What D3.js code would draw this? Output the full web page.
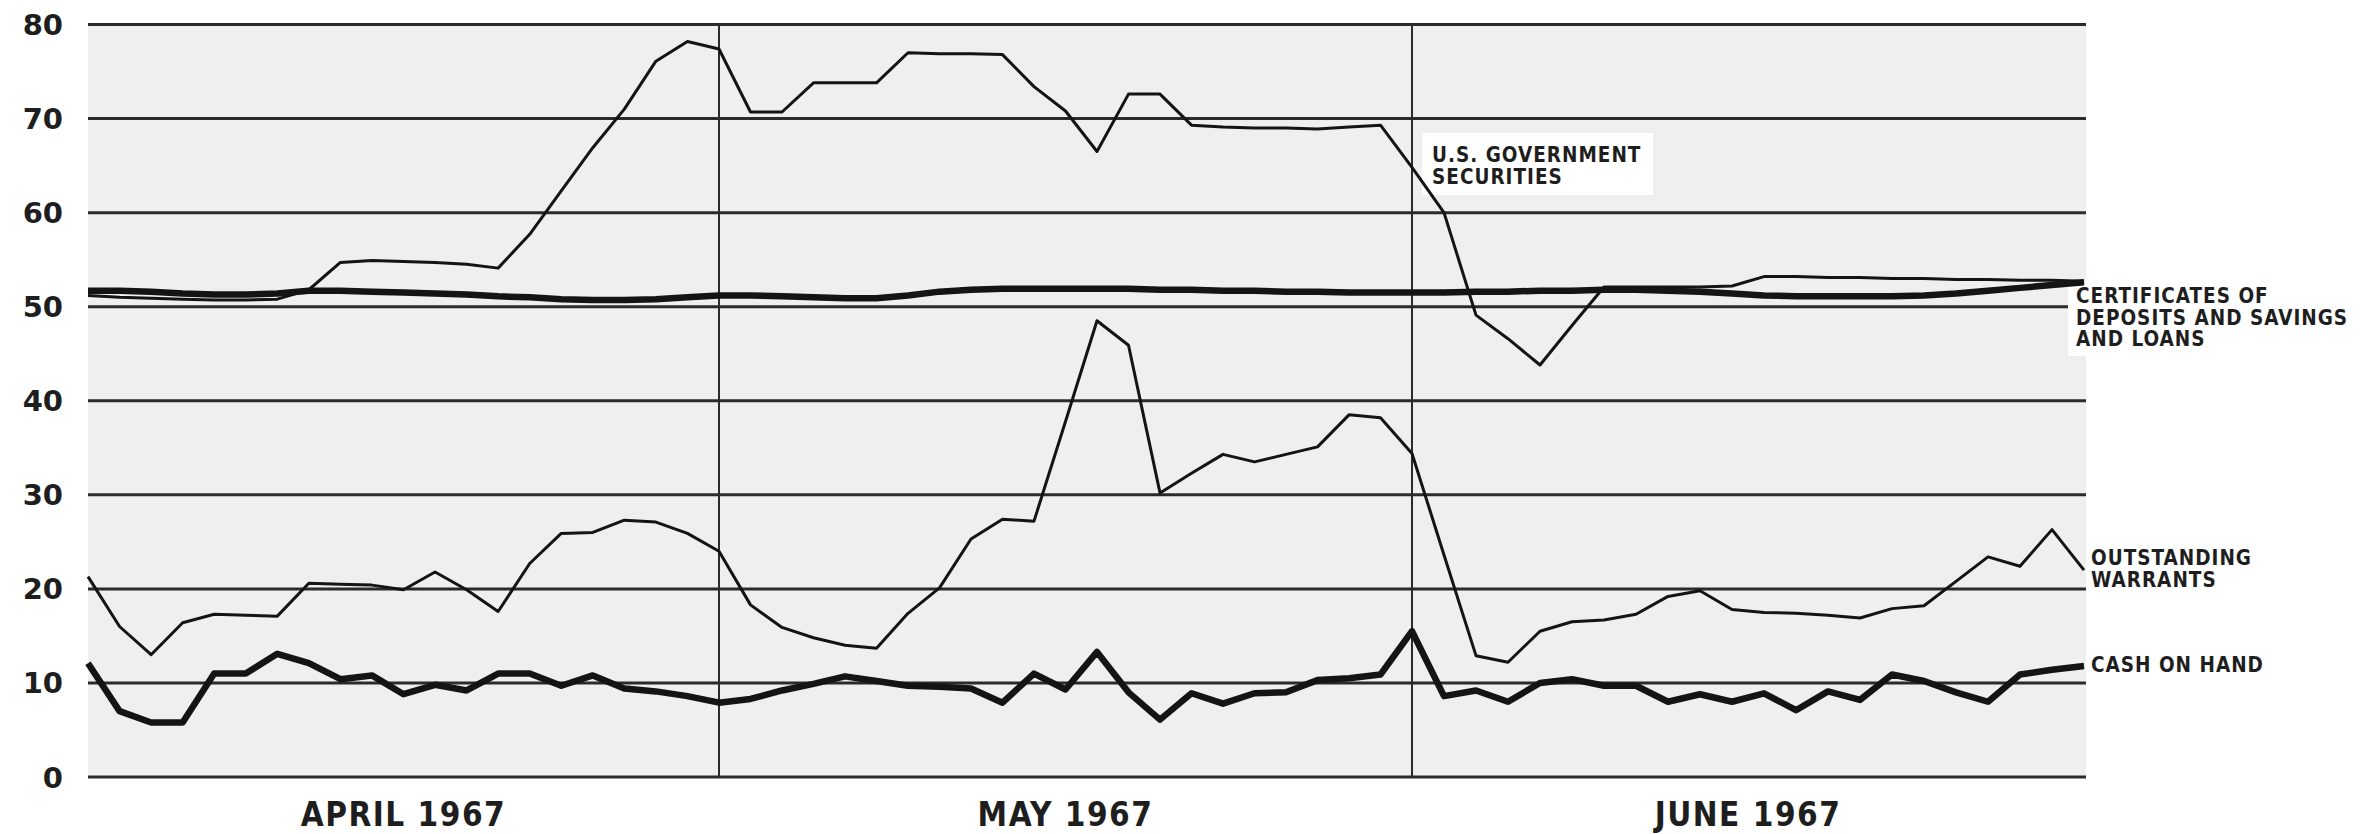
<!DOCTYPE html>
<html>
<head>
<meta charset="utf-8">
<script src="https://cdn.jsdelivr.net/npm/d3@7"></script>
<style>
    html, body { margin: 0; padding: 0; background: #fff; }
    svg { display: block; }
    text { font-family: "DejaVu Sans Condensed", "DejaVu Sans", sans-serif; font-weight: bold; fill: #1e1e1e; }
</style>
</head>
<body>
<svg id="chart"></svg>
<script>
const width = 2366;
const height = 834;

// one point per business day; April 0..20, May 20..42, June 42..63
const months = ["APRIL 1967", "MAY 1967", "JUNE 1967"];
const monthEdges = [0, 20, 42, 63];
const yTicks = [0, 10, 20, 30, 40, 50, 60, 70, 80];

const securities = [
    51.2, 51.0, 50.9, 50.8, 50.7, 50.7, 50.8, 51.8, 54.7, 54.9, 54.8,
    54.7, 54.5, 54.1, 57.7, 62.3, 66.9, 71.0, 76.1, 78.2, 77.4,
    70.7, 70.7, 73.8, 73.8, 73.8, 77.0, 76.9, 76.9, 76.8, 73.4, 70.8,
    66.5, 72.6, 72.6, 69.3, 69.1, 69.0, 69.0, 68.9, 69.1, 69.3, 64.8,
    60.0, 49.1, 46.6, 43.8, 48.0, 52.1, 52.1, 52.1, 52.1, 52.2, 53.2,
    53.2, 53.1, 53.1, 53.0, 53.0, 52.9, 52.9, 52.8, 52.8, 52.7];

const certificates = [
    51.7, 51.7, 51.6, 51.4, 51.3, 51.3, 51.4, 51.7, 51.7, 51.6, 51.5,
    51.4, 51.3, 51.1, 51.0, 50.8, 50.7, 50.7, 50.8, 51.0, 51.2,
    51.2, 51.1, 51.0, 50.9, 50.9, 51.2, 51.6, 51.8, 51.9, 51.9, 51.9,
    51.9, 51.9, 51.8, 51.8, 51.7, 51.7, 51.6, 51.6, 51.5, 51.5, 51.5,
    51.5, 51.6, 51.6, 51.7, 51.7, 51.8, 51.8, 51.7, 51.6, 51.4, 51.2,
    51.1, 51.1, 51.1, 51.1, 51.2, 51.4, 51.7, 52.0, 52.3, 52.6];

const warrants = [
    21.3, 16.0, 13.0, 16.4, 17.3, 17.2, 17.1, 20.6, 20.5, 20.4, 19.9,
    21.8, 19.9, 17.6, 22.7, 25.9, 26.0, 27.3, 27.1, 25.9, 24.0,
    18.3, 15.9, 14.8, 14.0, 13.7, 17.4, 20.1, 25.3, 27.4, 27.2, 37.8,
    48.5, 45.9, 30.2, 32.3, 34.3, 33.5, 34.3, 35.1, 38.5, 38.2, 34.4,
    23.6, 12.9, 12.2, 15.5, 16.5, 16.7, 17.3, 19.2, 19.8, 17.8, 17.5,
    17.4, 17.2, 16.9, 17.9, 18.2, 20.8, 23.4, 22.4, 26.3, 22.0];

const cash = [
    12.1, 7.0, 5.8, 5.8, 11.0, 11.0, 13.1, 12.1, 10.4, 10.8, 8.8,
    9.8, 9.2, 11.0, 11.0, 9.7, 10.8, 9.4, 9.1, 8.6, 7.9,
    8.3, 9.2, 9.9, 10.7, 10.2, 9.7, 9.6, 9.4, 7.9, 11.0, 9.3,
    13.3, 9.0, 6.1, 8.9, 7.8, 8.9, 9.0, 10.3, 10.5, 10.9, 15.5,
    8.6, 9.2, 8.0, 10.0, 10.4, 9.7, 9.7, 8.0, 8.8, 8.0, 8.9,
    7.1, 9.1, 8.2, 10.9, 10.2, 9.0, 8.0, 10.9, 11.4, 11.8];

const margin = { top: 24.5, right: 280, bottom: 57, left: 88 };
const plotW = width - margin.left - margin.right;
const plotH = height - margin.top - margin.bottom;

const svg = d3.select("#chart")
    .attr("width", width)
    .attr("height", height);

// each month is its own panel on the sheet, so the scale is piecewise
const panelEdges = [margin.left, 719, 1412, margin.left + plotW - 2];
const x = d3.scaleLinear()
    .domain(monthEdges)
    .range(panelEdges);

const y = d3.scaleLinear()
    .domain([0, 80])
    .range([margin.top + plotH, margin.top]);

// paper background of the plot
svg.append("rect")
    .attr("x", margin.left)
    .attr("y", margin.top)
    .attr("width", plotW)
    .attr("height", plotH)
    .attr("fill", "#efefef");

const gridGroup = svg.append("g").attr("class", "grid");

gridGroup.selectAll(".hline")
    .data(yTicks)
    .enter()
    .append("line")
    .attr("class", "hline")
    .attr("x1", margin.left)
    .attr("x2", margin.left + plotW)
    .attr("y1", d => y(d))
    .attr("y2", d => y(d))
    .attr("stroke", "#2b2b2b")
    .attr("stroke-width", 3);

gridGroup.selectAll(".vline")
    .data(monthEdges.slice(1, -1))
    .enter()
    .append("line")
    .attr("class", "vline")
    .attr("x1", d => x(d))
    .attr("x2", d => x(d))
    .attr("y1", y(80))
    .attr("y2", y(0))
    .attr("stroke", "#2b2b2b")
    .attr("stroke-width", 2);

// y labels
svg.append("g").selectAll(".ylabel")
    .data(yTicks)
    .enter()
    .append("text")
    .attr("class", "ylabel")
    .attr("x", 63)
    .attr("y", d => y(d) + 10.5)
    .attr("text-anchor", "end")
    .style("font-family", "'DejaVu Sans', sans-serif")
    .style("font-size", "29px")
    .text(d => d);

// month labels, centred under each panel
svg.append("g").selectAll(".month")
    .data(months)
    .enter()
    .append("text")
    .attr("class", "month")
    .attr("x", (d, i) => (x(monthEdges[i]) + x(monthEdges[i + 1])) / 2)
    .attr("y", 826)
    .attr("text-anchor", "middle")
    .style("font-size", "33px")
    .style("letter-spacing", "1.5px")
    .text(d => d);

// white paste-on boxes behind two labels
svg.append("rect")
    .attr("x", 1422).attr("y", 133)
    .attr("width", 231).attr("height", 62)
    .attr("fill", "#fff");
svg.append("rect")
    .attr("x", 2068).attr("y", 284)
    .attr("width", 298).attr("height", 72)
    .attr("fill", "#fff");

const line = d3.line()
    .x((d, i) => x(i))
    .y(d => y(d));

const series = [
    { values: certificates, w: 6.5 },
    { values: cash, w: 6.5 },
    { values: warrants, w: 3 },
    { values: securities, w: 3 }
];

svg.append("g").selectAll(".series")
    .data(series)
    .enter()
    .append("path")
    .attr("class", "series")
    .attr("d", d => line(d.values))
    .attr("fill", "none")
    .attr("stroke", "#141414")
    .attr("stroke-width", d => d.w)
    .attr("stroke-linejoin", "round")
    .attr("stroke-linecap", "butt");

// series labels
const labels = [
    { lines: ["U.S. GOVERNMENT", "SECURITIES"], x: 1432, y: 162 },
    { lines: ["CERTIFICATES OF", "DEPOSITS AND SAVINGS", "AND LOANS"], x: 2076, y: 303 },
    { lines: ["OUTSTANDING", "WARRANTS"], x: 2091, y: 565 },
    { lines: ["CASH ON HAND"], x: 2091, y: 672 }
];

const label = svg.append("g").selectAll(".label")
    .data(labels)
    .enter()
    .append("text")
    .attr("class", "label")
    .attr("x", d => d.x)
    .attr("y", d => d.y)
    .style("font-size", "20.5px")
    .style("letter-spacing", "1px");

label.selectAll("tspan")
    .data(d => d.lines.map((t, i) => ({ t, i, x: d.x })))
    .enter()
    .append("tspan")
    .attr("x", d => d.x)
    .attr("dy", d => d.i === 0 ? 0 : 21.5)
    .text(d => d.t);
</script>
</body>
</html>
